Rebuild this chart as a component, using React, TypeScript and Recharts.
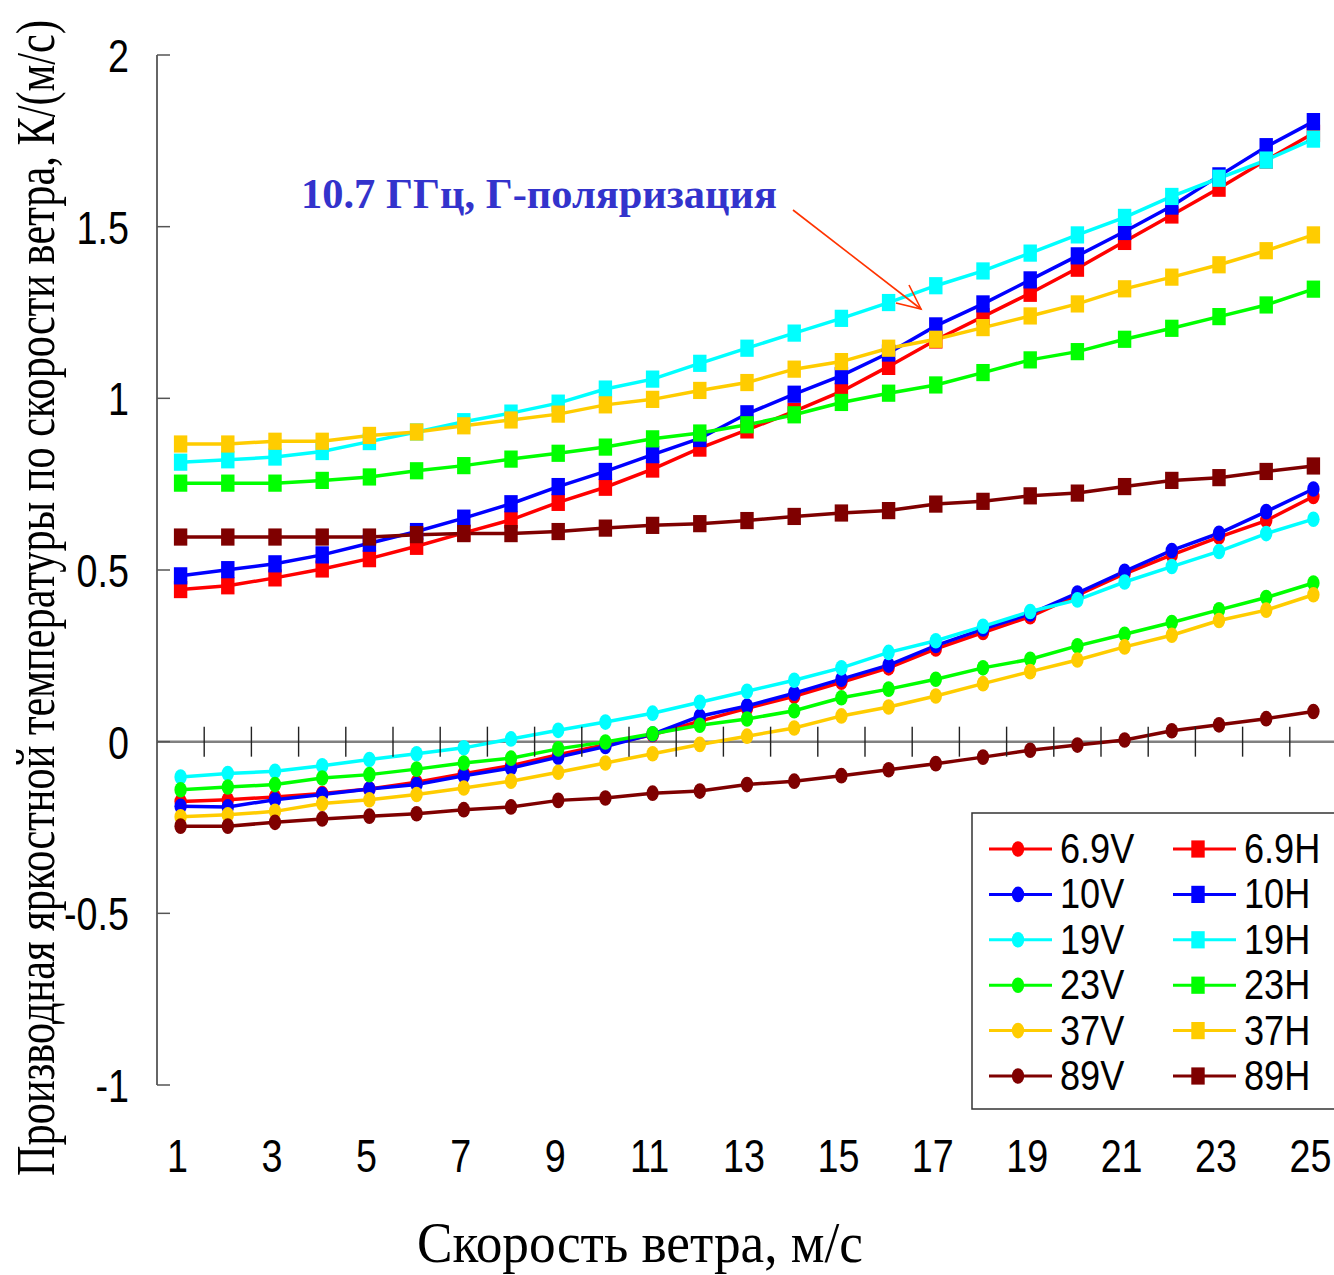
import React from 'react';
import { LineChart, Line, XAxis, YAxis, ReferenceLine, ReferenceDot } from 'recharts';

// Wind speed categories, m/s
const windSpeed = [1, 2, 3, 4, 5, 6, 7, 8, 9, 10, 11, 12, 13, 14, 15, 16, 17, 18, 19, 20, 21, 22, 23, 24, 25];
const xTickLabels = [1, 3, 5, 7, 9, 11, 13, 15, 17, 19, 21, 23, 25];
const yTickValues = [-1, -0.5, 0, 0.5, 1, 1.5, 2];
const zeroAxisTicks = [1.5, 2.5, 3.5, 4.5, 5.5, 6.5, 7.5, 8.5, 9.5, 10.5, 11.5, 12.5, 13.5, 14.5, 15.5, 16.5, 17.5, 18.5, 19.5, 20.5, 21.5, 22.5, 23.5, 24.5];

// dTb/dW, K/(m/s) — vertical polarization
const tb69V = [-0.174, -0.169, -0.161, -0.151, -0.138, -0.118, -0.093, -0.070, -0.038, -0.009, 0.020, 0.060, 0.097, 0.132, 0.173, 0.215, 0.270, 0.318, 0.364, 0.427, 0.489, 0.544, 0.596, 0.644, 0.714];
const tb10V = [-0.188, -0.190, -0.169, -0.154, -0.138, -0.125, -0.099, -0.077, -0.045, -0.014, 0.022, 0.074, 0.104, 0.141, 0.182, 0.223, 0.280, 0.328, 0.372, 0.433, 0.496, 0.557, 0.607, 0.670, 0.736];
const tb19V = [-0.103, -0.093, -0.086, -0.070, -0.052, -0.035, -0.018, 0.008, 0.033, 0.057, 0.083, 0.115, 0.147, 0.179, 0.215, 0.260, 0.294, 0.336, 0.379, 0.413, 0.465, 0.510, 0.554, 0.606, 0.648];
const tb23V = [-0.140, -0.132, -0.125, -0.106, -0.096, -0.080, -0.062, -0.048, -0.021, -0.001, 0.023, 0.048, 0.066, 0.090, 0.128, 0.153, 0.182, 0.215, 0.240, 0.279, 0.313, 0.347, 0.384, 0.420, 0.462];
const tb37V = [-0.219, -0.213, -0.203, -0.180, -0.169, -0.154, -0.135, -0.115, -0.089, -0.062, -0.035, -0.008, 0.016, 0.040, 0.075, 0.101, 0.133, 0.169, 0.204, 0.238, 0.276, 0.310, 0.353, 0.383, 0.428];
const tb89V = [-0.246, -0.246, -0.235, -0.225, -0.217, -0.210, -0.198, -0.190, -0.171, -0.164, -0.150, -0.144, -0.125, -0.115, -0.099, -0.082, -0.064, -0.045, -0.025, -0.010, 0.005, 0.032, 0.049, 0.067, 0.088];

// dTb/dW, K/(m/s) — horizontal polarization
const tb69H = [0.443, 0.454, 0.477, 0.503, 0.533, 0.569, 0.608, 0.646, 0.697, 0.741, 0.794, 0.855, 0.908, 0.962, 1.020, 1.093, 1.170, 1.238, 1.306, 1.379, 1.457, 1.534, 1.612, 1.694, 1.772];
const tb10H = [0.483, 0.501, 0.518, 0.544, 0.578, 0.612, 0.651, 0.693, 0.743, 0.787, 0.836, 0.883, 0.955, 1.012, 1.066, 1.132, 1.211, 1.275, 1.345, 1.415, 1.486, 1.560, 1.648, 1.733, 1.806];
const tb19H = [0.814, 0.821, 0.829, 0.845, 0.874, 0.902, 0.932, 0.957, 0.986, 1.027, 1.056, 1.102, 1.146, 1.190, 1.233, 1.279, 1.328, 1.371, 1.423, 1.476, 1.527, 1.588, 1.641, 1.694, 1.755];
const tb23H = [0.753, 0.753, 0.753, 0.761, 0.771, 0.789, 0.804, 0.823, 0.840, 0.858, 0.882, 0.899, 0.923, 0.952, 0.988, 1.015, 1.039, 1.075, 1.112, 1.136, 1.172, 1.204, 1.238, 1.272, 1.318];
const tb37H = [0.867, 0.867, 0.875, 0.875, 0.892, 0.902, 0.920, 0.937, 0.954, 0.981, 0.997, 1.023, 1.046, 1.085, 1.107, 1.146, 1.172, 1.206, 1.240, 1.275, 1.319, 1.353, 1.389, 1.430, 1.476];
const tb89H = [0.596, 0.596, 0.596, 0.596, 0.596, 0.603, 0.606, 0.606, 0.612, 0.622, 0.630, 0.635, 0.644, 0.656, 0.666, 0.673, 0.692, 0.700, 0.716, 0.724, 0.743, 0.761, 0.769, 0.787, 0.803];

type MarkerKind = 'circle' | 'square';
type Series = { key: string; name: string; color: string; marker: MarkerKind; values: number[] };

const SERIES: Series[] = [
  { key: 'v69', name: '6.9V', color: '#ff0000', marker: 'circle', values: tb69V },
  { key: 'h69', name: '6.9H', color: '#ff0000', marker: 'square', values: tb69H },
  { key: 'v10', name: '10V', color: '#0000ff', marker: 'circle', values: tb10V },
  { key: 'h10', name: '10H', color: '#0000ff', marker: 'square', values: tb10H },
  { key: 'v19', name: '19V', color: '#00ffff', marker: 'circle', values: tb19V },
  { key: 'h19', name: '19H', color: '#00ffff', marker: 'square', values: tb19H },
  { key: 'v23', name: '23V', color: '#00ff00', marker: 'circle', values: tb23V },
  { key: 'h23', name: '23H', color: '#00ff00', marker: 'square', values: tb23H },
  { key: 'v37', name: '37V', color: '#ffcc00', marker: 'circle', values: tb37V },
  { key: 'h37', name: '37H', color: '#ffcc00', marker: 'square', values: tb37H },
  { key: 'v89', name: '89V', color: '#7f0000', marker: 'circle', values: tb89V },
  { key: 'h89', name: '89H', color: '#7f0000', marker: 'square', values: tb89H },
];

const rows = windSpeed.map((speed, i) => {
  const row: Record<string, number> = { speed };
  SERIES.forEach((s) => {
    row[s.key] = s.values[i];
  });
  return row;
});

// Layout
const PAGE_W = 1334;
const PAGE_H = 1275;
const CHART_W = 1337;
const PLOT_LEFT = 157;
const PLOT_TOP = 55;
const X_AXIS_H = 190;
const PLOT_BOTTOM = PAGE_H - X_AXIS_H;

const FONT_SANS = '"Liberation Sans", Arial, sans-serif';
const FONT_SERIF = '"Liberation Serif", "Times New Roman", serif';
const NARROW = 0.82;

function Marker({ cx, cy, color, kind }: { cx: number; cy: number; color: string; kind: MarkerKind }) {
  if (kind === 'circle') {
    return <ellipse cx={cx} cy={cy} rx={6.2} ry={7.8} fill={color} />;
  }
  return <rect x={cx - 6.7} y={cy - 8.6} width={13.4} height={17.2} fill={color} />;
}

const YTick = (props: any) => {
  const { y, payload } = props;
  return (
    <g>
      <line x1={PLOT_LEFT} x2={PLOT_LEFT + 13} y1={y} y2={y} stroke="#555" strokeWidth={1.5} />
      <g transform={`translate(${PLOT_LEFT - 28},${y + 17}) scale(${NARROW},1)`}>
        <text x={0} y={0} textAnchor="end" fontFamily={FONT_SANS} fontSize={46} fill="#000">
          {String(payload.value)}
        </text>
      </g>
    </g>
  );
};

const XTick = (props: any) => {
  const { x, payload } = props;
  return (
    <g transform={`translate(${x - 3},${PLOT_BOTTOM + 87}) scale(${NARROW},1)`}>
      <text x={0} y={0} textAnchor="middle" fontFamily={FONT_SANS} fontSize={46} fill="#000">
        {String(payload.value)}
      </text>
    </g>
  );
};

const ZeroTick = (props: any) => {
  const { cx, cy } = props;
  if (cx == null || cy == null) return <g />;
  return <line x1={cx} x2={cx} y1={cy - 15} y2={cy + 15} stroke="#222" strokeWidth={1.4} />;
};

function LegendBox() {
  const left = 972;
  const top = 813;
  const rowGap = 45.4;
  const firstRow = 849;
  const cols = [
    { lineX1: 989, lineX2: 1052, markX: 1018, textX: 1060 },
    { lineX1: 1173, lineX2: 1236, markX: 1198, textX: 1244 },
  ];
  return (
    <g>
      <rect x={left} y={top} width={380} height={296} fill="#fff" stroke="#333" strokeWidth={1.5} />
      {SERIES.map((s, i) => {
        const row = Math.floor(i / 2);
        const col = cols[i % 2];
        const cy = firstRow + row * rowGap;
        return (
          <g key={s.key}>
            <line x1={col.lineX1} x2={col.lineX2} y1={cy} y2={cy} stroke={s.color} strokeWidth={3} />
            <Marker cx={col.markX} cy={cy} color={s.color} kind={s.marker} />
            <g transform={`translate(${col.textX},${cy + 14}) scale(0.86,1)`}>
              <text x={0} y={0} fontFamily={FONT_SANS} fontSize={42} fill="#000">
                {s.name}
              </text>
            </g>
          </g>
        );
      })}
    </g>
  );
}

export default function App() {
  return (
    <div style={{ position: 'absolute', left: 0, top: 0, width: PAGE_W, height: PAGE_H, overflow: 'hidden', background: '#fff' }}>
      <LineChart
        width={CHART_W}
        height={PAGE_H}
        data={rows}
        margin={{ top: PLOT_TOP, right: 0, bottom: 0, left: 0 }}
      >
        <XAxis
          dataKey="speed"
          type="number"
          domain={[0.5, 25.5]}
          ticks={xTickLabels}
          interval={0}
          axisLine={false}
          tickLine={false}
          height={X_AXIS_H}
          tick={XTick}
          allowDataOverflow
        />
        <YAxis
          type="number"
          domain={[-1, 2]}
          ticks={yTickValues}
          interval={0}
          width={PLOT_LEFT}
          axisLine={{ stroke: '#333', strokeWidth: 1.5 }}
          tickLine={false}
          tick={YTick}
          allowDataOverflow
        />
        <ReferenceLine y={0} stroke="#808080" strokeWidth={2.5} />
        {zeroAxisTicks.map((t) => (
          <ReferenceDot key={t} x={t} y={0} r={0} shape={ZeroTick} />
        ))}
        {SERIES.map((s) => (
          <Line
            key={s.key}
            type="linear"
            dataKey={s.key}
            name={s.name}
            stroke={s.color}
            strokeWidth={3.5}
            isAnimationActive={false}
            activeDot={false}
            dot={(p: any) => (
              <Marker key={`${s.key}-${p.index}`} cx={p.cx} cy={p.cy} color={s.color} kind={s.marker} />
            )}
          />
        ))}
      </LineChart>
      <svg
        width={PAGE_W}
        height={PAGE_H}
        style={{ position: 'absolute', left: 0, top: 0, pointerEvents: 'none' }}
      >
        {/* rotated axis title: glyph height stretched, run length condensed */}
        <g transform="translate(54,598) rotate(-90) scale(1,1.3)">
          <text
            x={0}
            y={0}
            textAnchor="middle"
            fontFamily={FONT_SERIF}
            fontSize={43}
            textLength={1156}
            lengthAdjust="spacingAndGlyphs"
            fill="#000"
          >
            Производная яркостной температуры по скорости ветра, К/(м/с)
          </text>
        </g>
        <text
          x={640}
          y={1262}
          textAnchor="middle"
          fontFamily={FONT_SERIF}
          fontSize={56}
          textLength={446}
          lengthAdjust="spacingAndGlyphs"
          fill="#000"
        >
          Скорость ветра, м/с
        </text>
        <text
          x={301}
          y={208}
          fontFamily={FONT_SERIF}
          fontWeight="bold"
          fontSize={42}
          textLength={476}
          lengthAdjust="spacingAndGlyphs"
          fill="#3333cc"
        >
          10.7 ГГц, Г-поляризация
        </text>
        <line x1={793} y1={210} x2={921} y2={309} stroke="#ff3300" strokeWidth={1.6} />
        <polyline points="909,285 921,309 896,303" fill="none" stroke="#ff3300" strokeWidth={1.6} />
        <LegendBox />
      </svg>
    </div>
  );
}
